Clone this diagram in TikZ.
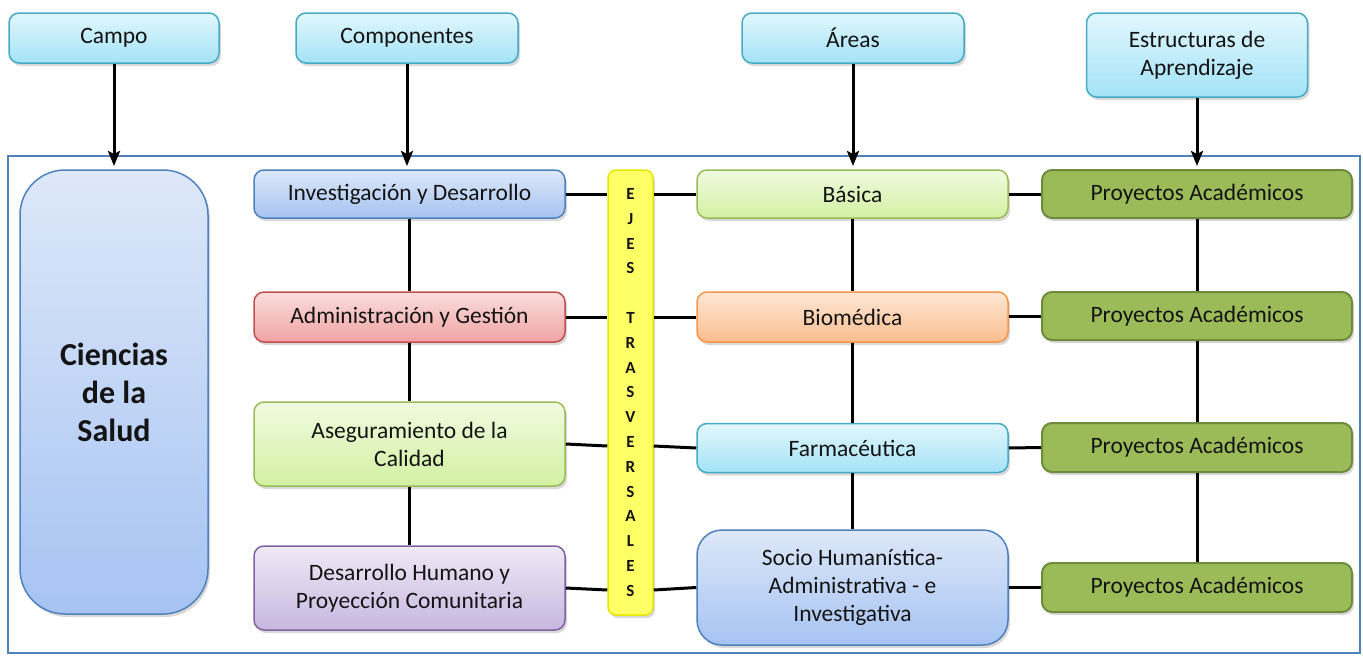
\documentclass[tikz,border=0pt]{standalone}
\usepackage{fontspec}
\setmainfont{Carlito}
\usetikzlibrary{shadows,arrows.meta,calc}
\definecolor{frameblue}{HTML}{4F81BD}
\definecolor{cyanT}{HTML}{E2F7FD}
\definecolor{cyanB}{HTML}{A3E3F7}
\definecolor{cyanD}{HTML}{46AAC5}
\definecolor{blueT}{HTML}{DDE8F9}
\definecolor{blueB}{HTML}{A6C3F2}
\definecolor{redT}{HTML}{FADDDD}
\definecolor{redB}{HTML}{F1A3A3}
\definecolor{redD}{HTML}{C0504D}
\definecolor{greenT}{HTML}{F0FBE0}
\definecolor{greenB}{HTML}{D3F0A2}
\definecolor{greenD}{HTML}{9BBB59}
\definecolor{purpT}{HTML}{EFE9F5}
\definecolor{purpB}{HTML}{C8B7E0}
\definecolor{purpD}{HTML}{8064A2}
\definecolor{orT}{HTML}{FEE7D6}
\definecolor{orB}{HTML}{FBBE8E}
\definecolor{orD}{HTML}{F79646}
\definecolor{projF}{HTML}{9BBB59}
\definecolor{projD}{HTML}{6E8A3C}
\definecolor{yelF}{HTML}{FFFF66}
\definecolor{yelD}{HTML}{E6E600}
\definecolor{txt}{HTML}{141414}
\tikzset{
  box/.style={rounded corners=10pt, line width=1.5pt, align=center, text=txt,
    font=\fontsize{23.5}{28}\selectfont,
    drop shadow={opacity=0.3, shadow xshift=2pt, shadow yshift=-3pt}},
  hdr/.style={box, top color=cyanT, bottom color=cyanB, draw=cyanD},
  bluebox/.style={box, top color=blueT, bottom color=blueB, draw=frameblue},
  redbox/.style={box, top color=redT, bottom color=redB, draw=redD},
  greenbox/.style={box, top color=greenT, bottom color=greenB, draw=greenD},
  purpbox/.style={box, top color=purpT, bottom color=purpB, draw=purpD},
  orbox/.style={box, top color=orT, bottom color=orB, draw=orD},
  projbox/.style={box, fill=projF, draw=projD, line width=2pt},
  yelbox/.style={box, rounded corners=8pt, fill=yelF, draw=yelD,
    font=\fontsize{17}{24.8}\selectfont\bfseries},
  conn/.style={line width=3pt, black},
  arr/.style={line width=3pt, black, -{Stealth[length=15pt,width=12pt,inset=3pt]}}
}
\begin{document}
\begin{tikzpicture}[x=1pt,y=-1pt]
\useasboundingbox (0,0) rectangle (1363,656);
\draw[frameblue, line width=2pt] (8,156) rectangle (1360,653);
% headers
\node[hdr, minimum width=210, minimum height=50] (campo) at (114,38) {Campo};
\node[hdr, minimum width=222, minimum height=50] (comp) at (407,38) {Componentes};
\node[hdr, minimum width=222, minimum height=50, text depth=0pt] (areas) at (853,38) {Áreas};
\node[hdr, minimum width=221, minimum height=84] (estr) at (1197,55) {Estructuras de\\Aprendizaje};
% targets of arrows
\coordinate (t1) at (114,166);
\coordinate (t2) at (407,166);
\coordinate (t3) at (853,166);
\coordinate (t4) at (1197,166);
% left
\node[bluebox, rounded corners=45pt, minimum width=188, minimum height=444,
  font=\fontsize{32}{38}\selectfont\bfseries] (cien) at (114,392) {Ciencias\\de la\\Salud};
% components
\node[bluebox, minimum width=311, minimum height=48] (inv) at (409.5,194) {Investigación y Desarrollo};
\node[redbox, minimum width=311, minimum height=50] (adm) at (409.5,317) {Administración y Gestión};
\node[greenbox, minimum width=311, minimum height=84] (ase) at (409.5,444) {Aseguramiento de la\\Calidad};
\node[purpbox, minimum width=311, minimum height=84] (des) at (409.5,588) {Desarrollo Humano y\\Proyección Comunitaria};
% ejes
\node[yelbox, minimum width=45, minimum height=445, inner sep=0pt] (ejes) at (630.5,392.5)
  {E\\J\\E\\S\\~\\T\\R\\A\\S\\V\\E\\R\\S\\A\\L\\E\\S};
% areas
\node[greenbox, minimum width=311, minimum height=48] (bas) at (852.5,194) {Básica};
\node[orbox, minimum width=311, minimum height=50] (bio) at (852.5,317) {Biomédica};
\node[hdr, minimum width=311, minimum height=49] (farm) at (852.5,448) {Farmacéutica};
\node[bluebox, rounded corners=25pt, minimum width=311, minimum height=115] (soc) at (852.5,587.5)
  {Socio Humanística-\\Administrativa - e\\Investigativa};
% projects
\node[projbox, minimum width=310, minimum height=48] (p1) at (1197,194) {Proyectos Académicos};
\node[projbox, minimum width=310, minimum height=48] (p2) at (1197,316) {Proyectos Académicos};
\node[projbox, minimum width=310, minimum height=49] (p3) at (1197,447.5) {Proyectos Académicos};
\node[projbox, minimum width=310, minimum height=49] (p4) at (1197,587.5) {Proyectos Académicos};
% arrows
\draw[arr] (campo.south) -- (t1);
\draw[arr] (comp.south) -- (t2);
\draw[arr] (areas.south) -- (t3);
\draw[arr] (estr.south) -- (t4);
% vertical connectors
\draw[conn] (inv.south) -- (adm.north);
\draw[conn] (adm.south) -- (ase.north);
\draw[conn] (ase.south) -- (des.north);
\draw[conn] (bas.south) -- (bio.north);
\draw[conn] (bio.south) -- (farm.north);
\draw[conn] (farm.south) -- (soc.north);
\draw[conn] (p1.south) -- (p2.north);
\draw[conn] (p2.south) -- (p3.north);
\draw[conn] (p3.south) -- (p4.north);
% horizontal connectors
\draw[conn] (inv.east) -- (ejes.west |- inv.east);
\draw[conn] (adm.east) -- (ejes.west |- adm.east);
\draw[conn] (ase.east) -- (ejes.west |- 0,446);
\draw[conn] (des.east) -- (ejes.west |- 0,590);
\draw[conn] (ejes.east |- bas.west) -- (bas.west);
\draw[conn] (ejes.east |- bio.west) -- (bio.west);
\draw[conn] (ejes.east |- 0,446) -- (farm.west);
\draw[conn] (ejes.east |- 0,590) -- (soc.west);
\draw[conn] (bas.east) -- (p1.west);
\draw[conn] (bio.east |- p2.west) -- (p2.west);
\draw[conn] (farm.east) -- (p3.west);
\draw[conn] (soc.east |- p4.west) -- (p4.west);
\end{tikzpicture}
\end{document}
